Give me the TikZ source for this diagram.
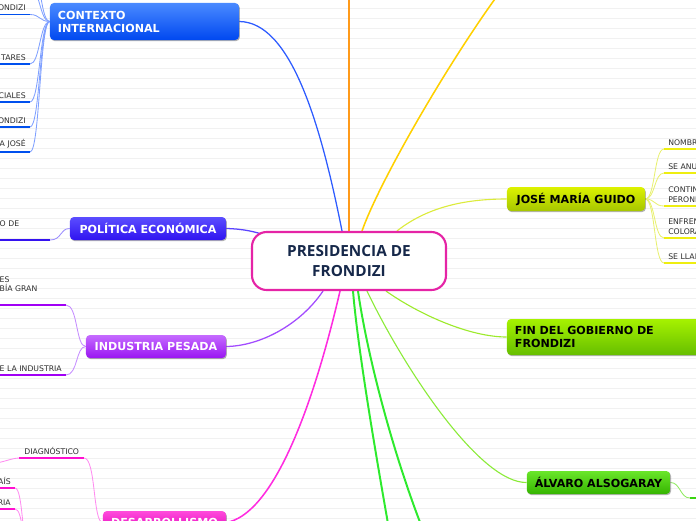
\documentclass[tikz,border=0pt]{standalone}
\usepackage{fontspec}
\setsansfont{DejaVu Sans}
\newfontfamily\titlefont{Open Sans}
\usetikzlibrary{calc,backgrounds,shadows}

\definecolor{rulegray}{HTML}{F1F1F1}
\definecolor{presborder}{HTML}{E524A6}
\definecolor{presfont}{HTML}{16284A}
\definecolor{leaftext}{HTML}{2E2E2E}
\definecolor{ctxtop}{HTML}{4A8AFF}
\definecolor{ctxbot}{HTML}{0048F0}
\definecolor{poltop}{HTML}{5B4DFF}
\definecolor{polbot}{HTML}{3014F0}
\definecolor{indtop}{HTML}{C56BFF}
\definecolor{indbot}{HTML}{9A16F2}
\definecolor{destop}{HTML}{FF4BDC}
\definecolor{desbot}{HTML}{E000B8}
\definecolor{guitop}{HTML}{DDF200}
\definecolor{guibot}{HTML}{A6C600}
\definecolor{fintop}{HTML}{A6F200}
\definecolor{finbot}{HTML}{66BE00}
\definecolor{alvtop}{HTML}{6AE62A}
\definecolor{alvbot}{HTML}{35B400}
\definecolor{ctxline}{HTML}{2E5CFF}
\definecolor{ctxtwig}{HTML}{7FA0FF}
\definecolor{ctxbar}{HTML}{0050EE}
\definecolor{polline}{HTML}{5A44FF}
\definecolor{poltwig}{HTML}{9A8CFF}
\definecolor{polbar}{HTML}{3512F0}
\definecolor{indline}{HTML}{A24BFF}
\definecolor{indtwig}{HTML}{C58CFF}
\definecolor{indbar}{HTML}{A100F5}
\definecolor{desline}{HTML}{FF2CE0}
\definecolor{destwig}{HTML}{FF8CF0}
\definecolor{desbar}{HTML}{FF10D0}
\definecolor{orangeline}{HTML}{FF9A1A}
\definecolor{goldline}{HTML}{FFD000}
\definecolor{greenline}{HTML}{2EEA2E}
\definecolor{guiline}{HTML}{DCEB3C}
\definecolor{guitwig}{HTML}{E8F070}
\definecolor{guibar}{HTML}{EEEE10}
\definecolor{finline}{HTML}{9DEA2C}
\definecolor{alvline}{HTML}{8CEB3A}
\definecolor{alvtwig}{HTML}{8FEA60}
\definecolor{alvbar}{HTML}{3AD410}

\tikzset{
  pres/.style={draw=presborder, line width=1.5pt, fill=white, rounded corners=10.5pt,
    minimum width=4.85cm, minimum height=1.45cm, align=center, text=presfont,
    font=\titlefont\bfseries\fontsize{10.9}{14.9}\selectfont},
  topic/.style={rounded corners=2.8pt, minimum height=0.575cm, inner xsep=0.2cm, inner ysep=0pt,
    font=\sffamily\bfseries\fontsize{7.9}{9.3}\selectfont,
    drop shadow={shadow xshift=0.6pt, shadow yshift=-0.8pt, opacity=0.3, fill=black}},
  leaf/.style={font=\sffamily\fontsize{5.5}{6.6}\selectfont, text=leaftext,
    inner xsep=0.1cm, inner ysep=0.09cm,
    append after command={\pgfextra{\let\leafnode\tikzlastnode}
      (\leafnode.south west) edge[draw=#1, line width=1.4pt] (\leafnode.south east)}},
  cutleft/.style={anchor=south east, align=right, text width=1cm},
  cutright/.style={anchor=south west, align=left, text width=1.2cm},
  branch/.style={draw=#1, line width=0.9pt},
  twig/.style={draw=#1, line width=0.6pt},
}

\begin{document}
\begin{tikzpicture}[x=0.025cm,y=-0.025cm]
  \useasboundingbox (0,0) rectangle (696,520);

  % central topic
  \node[pres] (pres) at (349,261) {PRESIDENCIA DE\\FRONDIZI};

  % main topics
  \node[topic, top color=ctxtop, bottom color=ctxbot, text=white,
        minimum height=0.925cm, text width=4.325cm, align=left]
        (ctx) at (144.5,21.5) {CONTEXTO\\INTERNACIONAL};
  \node[topic, top color=poltop, bottom color=polbot, text=white, minimum width=3.9cm]
        (pol) at (148,228.5) {POLÍTICA ECONÓMICA};
  \node[topic, top color=indtop, bottom color=indbot, text=white, minimum width=3.5cm]
        (ind) at (156,346.5) {INDUSTRIA PESADA};
  \node[topic, top color=destop, bottom color=desbot, text=white, minimum width=3.075cm]
        (des) at (164.5,522.5) {DESARROLLISMO};
  \node[topic, top color=guitop, bottom color=guibot, text=black, minimum width=3.45cm,
        minimum height=0.6cm] (gui) at (576,199) {JOSÉ MARÍA GUIDO};
  \node[topic, top color=fintop, bottom color=finbot, text=black,
        minimum height=0.9cm, text width=4.925cm, align=left]
        (fin) at (613.5,337) {FIN DEL GOBIERNO DE\\FRONDIZI};
  \node[topic, top color=alvtop, bottom color=alvbot, text=black, minimum width=3.575cm]
        (alv) at (598.5,482.5) {ÁLVARO ALSOGARAY};

  % leaves
  \node[leaf=ctxbar, cutleft] (c1) at (30,14.5) {ONDIZI};
  \node[leaf=ctxbar, cutleft] (c2) at (30,64) {TARES};
  \node[leaf=ctxbar, cutleft] (c3) at (30,102) {CIALES};
  \node[leaf=ctxbar, cutleft] (c4) at (30,127) {ONDIZI};
  \node[leaf=ctxbar, cutleft] (c5) at (30,152) {A JOSÉ};

  \node[leaf=polbar, anchor=south east, align=left, text width=1.15cm] (p1) at (50,240) {O DE\\\mbox{}};

  \node[leaf=indbar, anchor=south east, align=left, text width=1.55cm] (i1) at (66,305) {ES\\BÍA GRAN\\\mbox{}};
  \node[leaf=indbar, cutleft, text width=2cm] (i2) at (66,375) {E LA INDUSTRIA};

  \node[leaf=desbar, anchor=south east, align=center, text width=1.4cm] (d1) at (84,458) {DIAGNÓSTICO};
  \node[leaf=desbar, cutleft] (d2) at (15,488) {AÍS};
  \node[leaf=desbar, cutleft] (d3) at (15,509) {RIA};

  \node[leaf=guibar, cutright] (g1) at (664,149) {NOMBR};
  \node[leaf=guibar, cutright] (g2) at (664,173) {SE ANU};
  \node[leaf=guibar, cutright] (g3) at (664,206) {CONTIN\\PERONI};
  \node[leaf=guibar, cutright] (g4) at (664,238) {ENFREN\\COLORA};
  \node[leaf=guibar, cutright] (g5) at (664,263) {SE LLAM};

  % free ends
  \coordinate (topo) at (349,-5);
  \coordinate (topy) at (500,-8);
  \coordinate (gb1) at (390,535);
  \coordinate (gb2) at (425,535);
  \coordinate (c0a) at (30,-12);
  \coordinate (c0b) at (30,-40);
  \coordinate (dx) at (-6,463);
  \coordinate (dy) at (28,545);
  \coordinate (a1) at (690,498);

  \begin{scope}[on background layer]
    \foreach \y in {8.5,18.5,...,518.5}
      \draw[rulegray, line width=0.6pt] (0,\y) -- (696,\y);

    \draw[branch=orangeline, line width=1.4pt] (pres.north) -- (topo);
    \draw[branch=goldline, line width=1.1pt] ($(pres.north)+(13,0)$) .. controls (380,180) and (450,60) .. (topy);
    \draw[branch=ctxline] ($(pres.north)+(-7,0)$) .. controls (320,120) and (290,22) .. (ctx.east);
    \draw[branch=polline] (pol.east) .. controls (245,229) and (255,232) .. ($(pres.north west)+(14,4)$);
    \draw[branch=indline] ($(pres.south)+(-26,0)$) .. controls (300,325) and (260,346) .. (ind.east);
    \draw[branch=desline, line width=1.1pt] ($(pres.south)+(-9,0)$) .. controls (310,420) and (270,515) .. (des.east);
    \draw[branch=greenline, line width=1.4pt] ($(pres.south)+(4,0)$) .. controls (358,350) and (375,450) .. (gb1);
    \draw[branch=greenline, line width=1.4pt] ($(pres.south)+(9,0)$) .. controls (368,360) and (395,460) .. (gb2);
    \draw[branch=alvline, line width=0.8pt] ($(pres.south)+(18,0)$) .. controls (405,370) and (480,483) .. (alv.west);
    \draw[branch=finline, line width=0.8pt] ($(pres.south)+(37,0)$) .. controls (420,315) and (470,337) .. (fin.west);
    \draw[branch=guiline, line width=0.8pt] ($(pres.north)+(48,0)$) .. controls (430,205) and (470,199) .. (gui.west);

    % twigs
    \foreach \n in {c0a,c0b}
      \draw[twig=ctxtwig] (\n) .. controls +(10,0) and +(-10,0) .. (ctx.west);
    \foreach \n in {c1,c2,c3,c4,c5}
      \draw[twig=ctxtwig] (\n.south east) .. controls +(10,0) and +(-10,0) .. (ctx.west);
    \draw[twig=poltwig] (p1.south east) .. controls +(12,0) and +(-10,0) .. (pol.west);
    \draw[twig=indtwig] (i1.south east) .. controls +(12,0) and +(-10,0) .. (ind.west);
    \draw[twig=indtwig] (i2.south east) .. controls +(12,0) and +(-10,0) .. (ind.west);
    \draw[twig=destwig] (d1.south east) .. controls +(12,0) and +(-10,0) .. (des.west);
    \draw[twig=destwig] (d1.south west) .. controls +(-8,0) and +(8,0) .. (dx);
    \draw[twig=destwig] (d2.south east) .. controls +(8,0) and +(-6,0) .. (dy);
    \draw[twig=destwig] (d3.south east) .. controls +(8,0) and +(-6,0) .. (dy);
    \foreach \n in {g1,g2,g3,g4,g5}
      \draw[twig=guitwig] (gui.east) .. controls +(10,0) and +(-10,0) .. (\n.south west);
    \draw[twig=alvtwig] (alv.east) .. controls +(10,0) and +(-10,0) .. (a1);
    \draw[alvbar, line width=1.4pt] (a1) -- ++(20,0);
  \end{scope}
\end{tikzpicture}
\end{document}
